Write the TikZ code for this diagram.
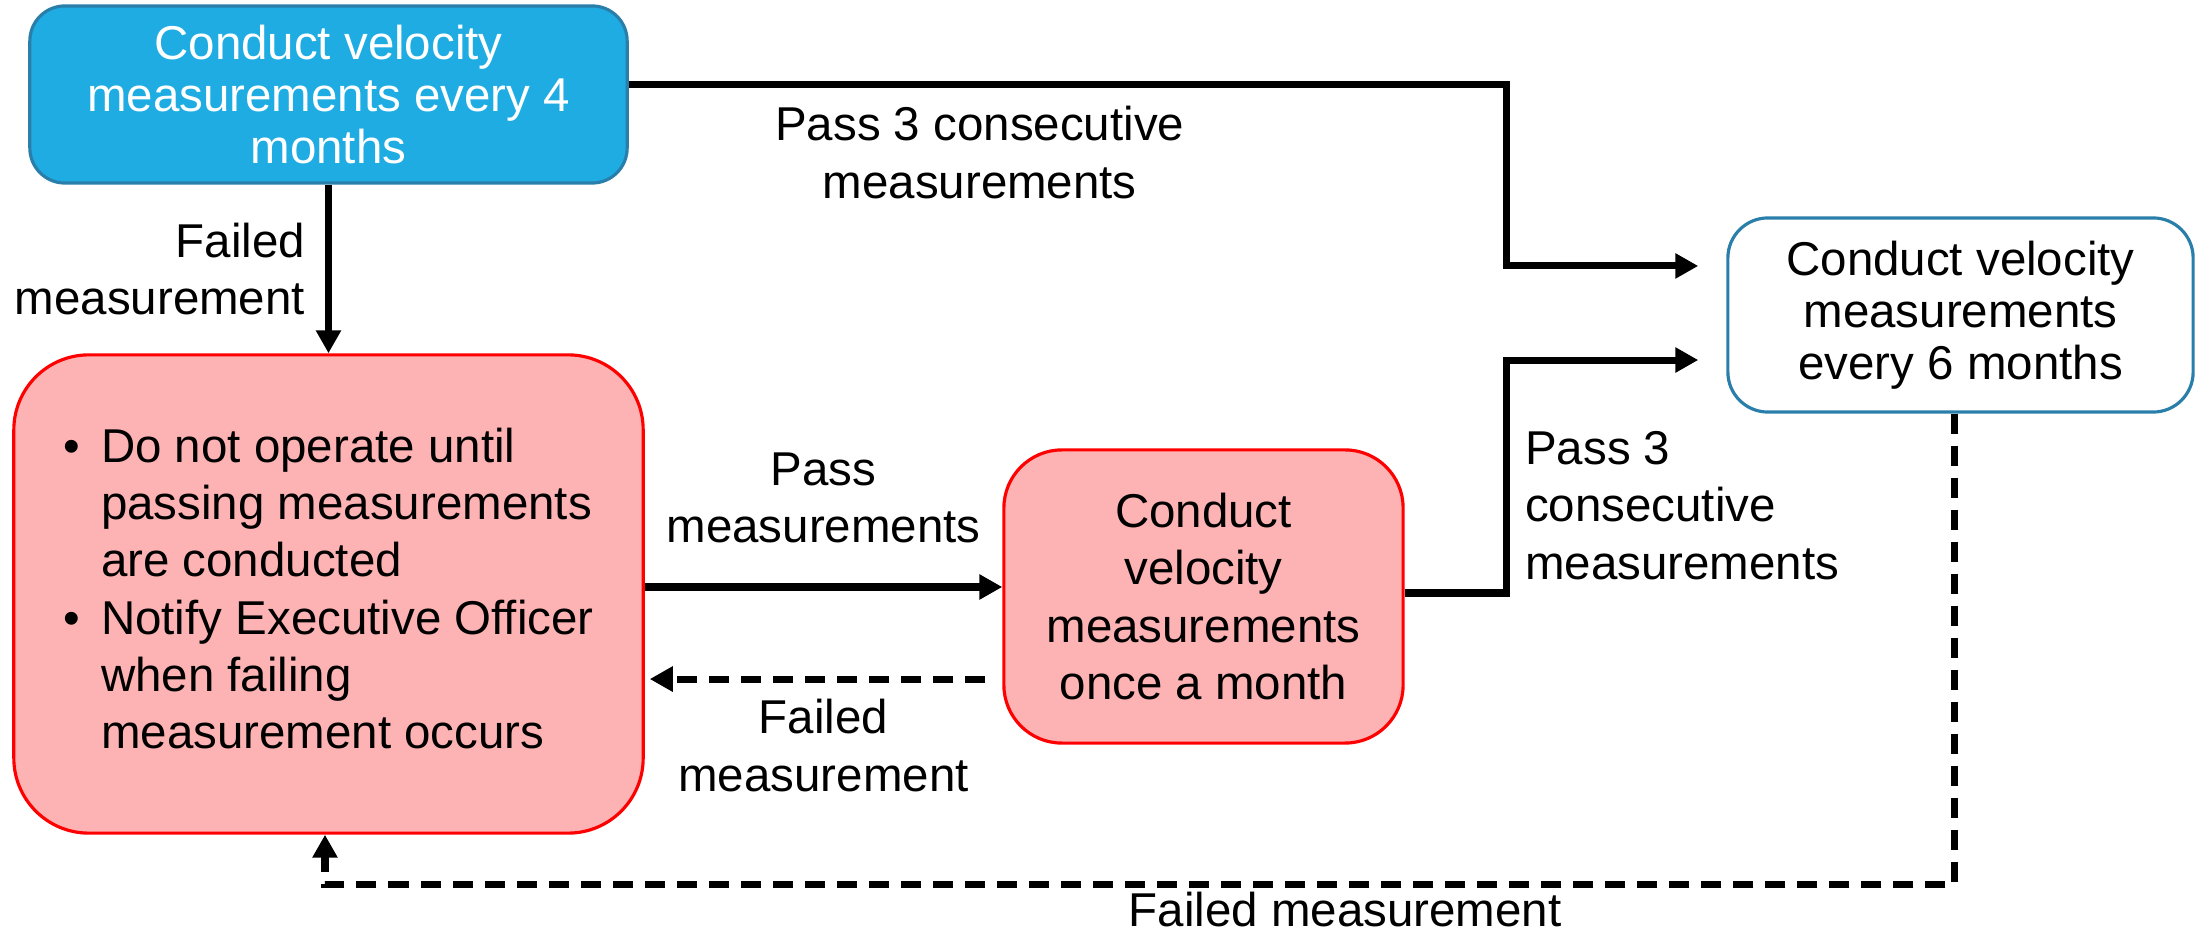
\documentclass[tikz,border=0pt]{standalone}
\usepackage{fontspec}
\setmainfont{Liberation Sans}
\usetikzlibrary{arrows.meta}
\usetikzlibrary{positioning}

\definecolor{boxblue}{HTML}{1EACE2}
\definecolor{edgeblue}{HTML}{2A7FAA}
\definecolor{boxpink}{HTML}{FDB3B3}

\begin{document}
\begin{tikzpicture}[x=0.01cm,y=-0.01cm]
\useasboundingbox (0,0) rectangle (2197,934);
\begin{scope}[every node/.style={line width=0.9pt,font={\fontsize{13.5}{16.3}\selectfont}}]
    \node[fill=boxblue,draw=edgeblue,text=white,align=center,rounded corners=0.35cm,
          minimum width=5.97cm,minimum height=1.77cm,font={\fontsize{13.5}{14.8}\selectfont}]
          (four) at (328.5,94.5) {Conduct velocity\\measurements every 4\\months};
    \node[fill=boxpink,draw=red,rounded corners=0.75cm,
          minimum width=6.29cm,minimum height=4.78cm]
          (halt) at (328.5,594) {\begin{tabular}{@{}l@{\hspace{6pt}}l@{}}
              \textbullet & Do not operate until\\
                          & passing measurements\\
                          & are conducted\\
              \textbullet & Notify Executive Officer\\
                          & when failing\\
                          & measurement occurs
          \end{tabular}};
    \node[fill=boxpink,draw=red,align=center,rounded corners=0.58cm,
          minimum width=3.99cm,minimum height=2.93cm]
          (month) at (1203.5,596.5) {Conduct\\velocity\\measurements\\once a month};
    \node[fill=white,draw=edgeblue,align=center,rounded corners=0.4cm,
          minimum width=4.65cm,minimum height=1.94cm,font={\fontsize{13.5}{14.8}\selectfont}]
          (six) at (1960.5,315) {Conduct velocity\\measurements\\every 6 months};
\end{scope}
\begin{scope}[>={Triangle[length=0.23cm,width=0.24cm]},line width=2pt,
              dashline/.style={dash pattern=on 0.2cm off 0.12cm},
              every node/.style={inner sep=0pt,font={\fontsize{13.5}{16.3}\selectfont}}]
    % straight links
    \path [->] (four) edge node[left=0.2cm,align=right] {Failed\\measurement} (halt);
    \path [->] ([yshift=0.07cm]halt.east) edge node[above=0.4cm,align=center] {Pass\\measurements}
          ([yshift=0.07cm]halt.east -| month.west);
    \path [->] ([yshift=-0.85cm]halt.east -| month.west)
          edge[dashline,shorten <=0.17cm,shorten >=0.05cm] node[below=0.17cm,align=center] {Failed\\measurement}
          ([yshift=-0.85cm]halt.east);
    % bent links to the six month check
    \draw [->,shorten >=0.28cm] ([yshift=0.1cm]four.east)
          -| node[pos=0.2,below=0.185cm,align=center] {Pass 3 consecutive\\measurements}
          ([xshift=-2.2cm,yshift=0.49cm]six.west) -- ([yshift=0.49cm]six.west);
    \draw [->,shorten >=0.28cm] ([yshift=0.035cm]month.east)
          -| node[pos=0.688,right=0.155cm,align=left] {Pass 3\\consecutive\\measurements}
          ([xshift=-2.2cm,yshift=-0.45cm]six.west) -- ([yshift=-0.45cm]six.west);
    \draw [->,dashline] ([xshift=-0.06cm]six.south)
          |- node[pos=0.687,below=0.04cm] {Failed measurement}
          ([xshift=-0.035cm,yshift=-0.5cm]halt.south) -- ([xshift=-0.035cm]halt.south);
\end{scope}
\end{tikzpicture}
\end{document}
